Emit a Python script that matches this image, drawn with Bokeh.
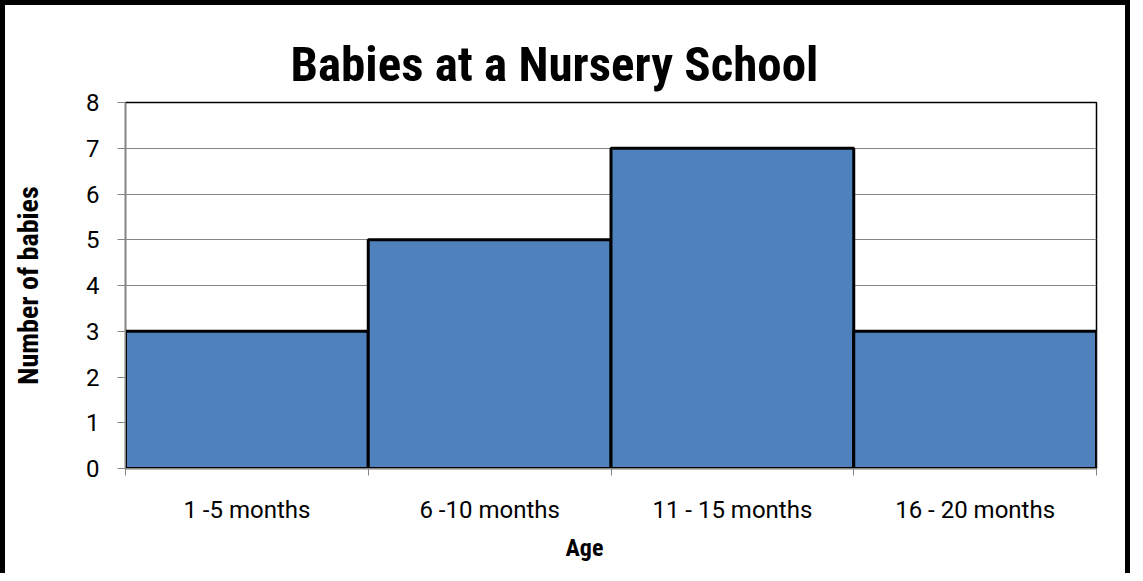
from bokeh.plotting import figure
from bokeh.models import Range1d, FixedTicker, Title
from bokeh.embed import file_html
from bokeh.resources import INLINE

categories = ["1 -5 months", "6 -10 months", "11 - 15 months", "16 - 20 months"]
babies = [3, 5, 7, 3]
y_ticks = [0, 1, 2, 3, 4, 5, 6, 7, 8]

idx = list(range(len(categories)))
lefts = [i for i in idx]
rights = [i + 1 for i in idx]
centers = [i + 0.5 for i in idx]
bounds = list(range(len(categories) + 1))

p = figure(width=1120, height=568, output_backend="svg", toolbar_location=None,
           x_range=Range1d(0, len(categories)), y_range=Range1d(0, 8),
           frame_width=971, frame_height=366,
           min_border_left=120, min_border_right=29, min_border_top=97, min_border_bottom=105,
           title=None)
p.styles = {"border-left": "5px solid black", "border-top": "5px solid black",
            "border-right": "5px solid black"}

p.quad(left=lefts, right=rights, bottom=0, top=babies, fill_color="#4F81BD",
       line_color="black", line_width=3)

p.outline_line_color = "black"
p.outline_line_width = 1.5

FONT = "Roboto"
BOLD = "Roboto Condensed"
# x axis
p.xaxis.ticker = FixedTicker(ticks=centers, minor_ticks=bounds)
p.xaxis.major_label_overrides = {c: lab for c, lab in zip(centers, categories)}
p.xaxis.major_tick_out = 0
p.xaxis.major_tick_in = 0
p.xaxis.minor_tick_out = 7
p.xaxis.minor_tick_in = 0
p.xaxis.minor_tick_line_color = "#868686"
p.xaxis.axis_line_color = "#868686"
p.xaxis.major_label_text_font = FONT
p.xaxis.major_label_text_font_size = "24px"
p.xaxis.major_label_text_color = "black"
p.xaxis.major_label_standoff = 20
p.xgrid.visible = False

# y axis
p.yaxis.ticker = FixedTicker(ticks=y_ticks)
p.yaxis.minor_tick_line_color = None
p.yaxis.major_tick_out = 8
p.yaxis.major_tick_in = 0
p.yaxis.major_tick_line_color = "#868686"
p.yaxis.axis_line_color = "#868686"
p.yaxis.major_label_text_font = FONT
p.yaxis.major_label_text_font_size = "24px"
p.yaxis.major_label_text_color = "black"
p.yaxis.major_label_standoff = 18
p.yaxis.axis_label = "Number of babies"
p.yaxis.axis_label_text_font = BOLD
p.yaxis.axis_label_text_font_style = "bold"
p.yaxis.axis_label_text_font_size = "28px"
p.yaxis.axis_label_text_color = "black"
p.yaxis.axis_label_standoff = 38
p.ygrid.grid_line_color = "#868686"
p.ygrid.grid_line_width = 1.2

t = Title(text="Babies at a Nursery School", align="left", offset=165,
          text_font=BOLD, text_font_style="bold",
          text_font_size="49px", text_color="black", standoff=19)
p.add_layout(t, "above")

a = Title(text="Age", align="left", offset=440,
          text_font=BOLD, text_font_style="bold",
          text_font_size="24px", text_color="black", standoff=10)
p.add_layout(a, "below")

open("out.html", "w").write(file_html(p, INLINE))
